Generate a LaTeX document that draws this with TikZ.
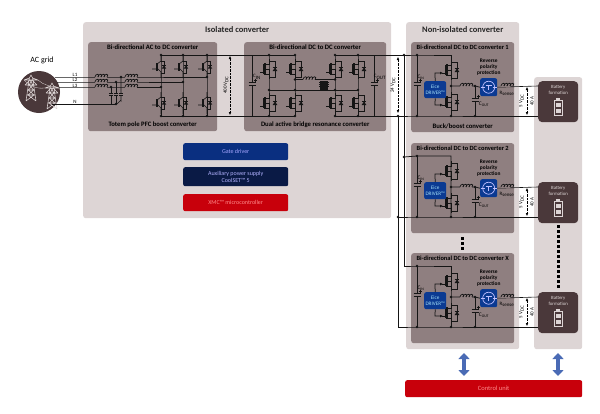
\documentclass[tikz,border=0pt]{standalone}
\usepackage{fontspec}
\setmainfont{Carlito}
\usetikzlibrary{positioning,arrows.meta}
\definecolor{panelgrey}{HTML}{DDD5D5}
\definecolor{subgrey}{HTML}{8F7F80}
\definecolor{darkbrown}{HTML}{4A383A}
\definecolor{wirecol}{HTML}{151515}
\definecolor{gateblue}{HTML}{0A2F80}
\definecolor{auxblue}{HTML}{0A1A45}
\definecolor{chipblue}{HTML}{0B3A92}
\definecolor{redbox}{HTML}{C8000B}
\definecolor{arrowblue}{HTML}{4A6BB5}
\tikzset{
  panel/.style={rectangle,rounded corners=2.5pt,fill=panelgrey,anchor=north west,inner sep=0},
  subpanel/.style={panel,fill=subgrey},
  box/.style={rectangle,rounded corners=2pt,anchor=north west,inner sep=0,align=center,font=\fontsize{6}{7.5}\selectfont},
  ptitle/.style={font=\fontsize{8.5}{9}\selectfont\bfseries,text=black!85,inner sep=0},
  stitle/.style={font=\fontsize{6.7}{7}\selectfont\bfseries,text=black,inner sep=0},
  small/.style={font=\fontsize{5}{5.6}\selectfont,text=black,inner sep=0},
  dot/.style={circle,fill=wirecol,inner sep=0,minimum size=2.6pt},
  wire/.style={draw=wirecol,line width=.75pt},
  meas/.style={draw=black,line width=.4pt,densely dotted,{Latex[length=3pt,width=2.6pt]}-{Latex[length=3pt,width=2.6pt]}},
  updown/.style={draw=arrowblue,line width=3.6pt,{Triangle[length=6pt,width=11pt]}-{Triangle[length=6pt,width=11pt]}},
  igbt/.pic={
    \draw[wire,line width=.6pt] (-9,2) -- (-5,2) (-4,-3) -- (0,-6) -- (0,-11) (-4,1) -- (0,5) -- (0,11);
    \draw[wire,line width=1.1pt] (-4,-4) -- (-4,4);
    \draw[wire,line width=.6pt] (0,-6) -- (3,-6) -- (3,6) -- (0,6);
    \fill[wirecol] (.8,1.5) -- (5.2,1.5) -- (3,-1.5) -- cycle;
    \draw[wirecol,line width=.6pt] (.8,-1.6) -- (5.2,-1.6);
  },
  mosfet/.pic={
    \draw[wire,line width=.6pt] (0,-10) -- (0,-5) -- (-4,-5) (-4,0) -- (0,0) (-4,5) -- (0,5) -- (0,10);
    \draw[wire,line width=.6pt] (0,0) -- (0,5);
    \draw[wire,line width=1.1pt] (-4,-6) -- (-4,6);
    \draw[wire,line width=.6pt] (-5.5,-5) -- (-5.5,5) (-5.5,3) -- (-9,3);
    \draw[wire,line width=.6pt] (0,-8) -- (6,-8) -- (6,8) -- (0,8);
    \fill[wirecol] (3.6,2) -- (8.4,2) -- (6,-1.5) -- cycle;
    \draw[wirecol,line width=.6pt] (3.6,-1.7) -- (8.4,-1.7);
  },
  coil/.pic={
    \foreach \k in {0,3,6,9}
      \draw[wirecol,line width=.7pt] (\k,0) .. controls +(0,-3.6) and +(3,-3.6) .. +(3,0);
  },
  cappol/.pic={
    \fill[subgrey] (-3.5,-1.2) rectangle (3.5,1.2);
    \draw[wirecol,line width=.9pt] (-3.5,-1.2) -- (3.5,-1.2) (-3.5,1.2) -- (3.5,1.2);
    \draw[wirecol,line width=.4pt] (1.5,-4) -- (4.5,-4) (3,-5.5) -- (3,-2.5);
  },
  capsmall/.pic={
    \fill[subgrey] (-2,-1) rectangle (2,1);
    \draw[wirecol,line width=.8pt] (-2.2,-1) -- (2.2,-1) (-2.2,1) -- (2.2,1);
  },
  pylon/.pic={
    \draw[panelgrey,line width=.55pt,line join=round]
      (-5,13) -- (-1.6,-10) -- (0,-13) -- (1.6,-10) -- (5,13)
      (-7,-8) -- (7,-8) (-6,-3) -- (6,-3)
      (-7,-8) -- (-1.6,-10) (7,-8) -- (1.6,-10) (-6,-3) -- (-1.2,-8) (6,-3) -- (1.2,-8)
      (-1.2,-8) -- (2,-3) -- (-2.8,2) -- (3,7) -- (-5,13)
      (1.2,-8) -- (-2,-3) -- (2.8,2) -- (-3,7) -- (5,13)
      (-2.8,2) -- (2.8,2) (-3.6,7) -- (3.6,7);
  },
}
\begin{document}
\begin{tikzpicture}[x=1pt,y=-1pt]
  \useasboundingbox (0,0) rectangle (600,413);

  % big panels
  \node[panel,minimum width=308,minimum height=196] (isolated) at (83,22) {};
  \node[panel,minimum width=113,minimum height=327] (nonisolated) at (406,22) {};
  \node[panel,minimum width=48,minimum height=272] (batpanel) at (534,77) {};
  \node[ptitle,below=4pt of isolated.north] (isotitle) {Isolated converter};
  \node[ptitle,below=4pt of nonisolated.north] (nontitle) {Non-isolated converter};

  \node[subpanel,minimum width=129,minimum height=89] (pfc) at (88,42) {};
  \node[subpanel,minimum width=142,minimum height=89] (dab) at (244,42) {};
  \node[stitle,below=3pt of pfc.north] (pfctitle) {Bi-directional AC to DC converter};
  \node[stitle,above=3.5pt of pfc.south] (pfcname) {Totem pole PFC boost converter};
  \node[stitle,below=3pt of dab.north] (dabtitle) {Bi-directional DC to DC converter};
  \node[stitle,above=3.5pt of dab.south] (dabname) {Dual active bridge resonance converter};

  % grid
  \node[circle,fill=darkbrown,minimum size=42pt,inner sep=0] (grid) at (39,92) {};
  \node[font=\fontsize{8}{9}\selectfont,inner sep=0] (gridname) at (42,60) {AC grid};
  \pic at (31,88) {pylon};
  \pic at (52,96) {pylon};
  \draw[panelgrey,line width=.3pt] (24,80) .. controls (34,90) and (42,88) .. (45,88)
    (38,80) .. controls (43,85) and (50,86) .. (59,88);

  % phases
  \coordinate (gL1) at (55,77);
  \coordinate (gL2) at (57,82);
  \coordinate (gL3) at (58.5,87);
  \coordinate (gN) at (52,104);
  \node[dot] (jL1a) at (121,77) {};
  \node[dot] (jL2a) at (116,82) {};
  \node[dot] (jL3a) at (111,87) {};
  \node[dot] (jNa) at (116,104) {};
  \node[dot] (leg1m) at (207,77) {};
  \node[dot] (leg2m) at (183,82) {};
  \node[dot] (leg3m) at (161,87) {};
  \draw[wire,line width=.6pt] (gL1) -- (jL1a.center) -- (leg1m.center);
  \draw[wire,line width=.6pt] (gL2) -- (jL2a.center) -- (leg2m.center);
  \draw[wire,line width=.6pt] (gL3) -- (jL3a.center) -- (leg3m.center);
  \draw[wire,line width=.6pt] (gN) -- (jNa.center);
  \draw[wire,line width=.6pt] (jL1a.center) -- (121,101) to[out=90,in=0] (jNa.center);
  \draw[wire,line width=.6pt] (jL2a.center) -- (jNa.center);
  \draw[wire,line width=.6pt] (jL3a.center) -- (111,104) -- (jNa.center);
  \foreach \ypos in {77,82,87} {
    \fill[subgrey] (95,\ypos-.6) rectangle (107,\ypos+.6);
    \fill[subgrey] (125,\ypos-.6) rectangle (137,\ypos+.6);
    \pic at (95,\ypos) {coil};
    \pic at (125,\ypos) {coil};
  }
  \foreach \xpos in {111,116,121}
    \pic at (\xpos,94) {capsmall};
  \foreach \nm/\ypos in {L1/74.5,L2/80,L3/85.5,N/101.5}
    \node[small] (lab\nm) at (75,\ypos) {\nm};

  % pfc legs
  \foreach \nm/\xpos/\mid in {1/207/leg1m,2/183/leg2m,3/161/leg3m} {
    \node[dot] (pfctop\nm) at (\xpos,55) {};
    \node[dot] (pfcbot\nm) at (\xpos,116) {};
    \draw[wire] (pfctop\nm.center) -- (\mid.center) -- (pfcbot\nm.center);
    \pic at (\xpos,67) {igbt};
    \pic at (\xpos,103) {igbt};
  }

  % dab
  \foreach \nm/\xpos in {a/269,b/295,c/335,d/358} {
    \node[dot] (dabtop\nm) at (\xpos,55) {};
    \node[dot] (dabbot\nm) at (\xpos,116) {};
    \node[dot] (dabmid\nm) at (\xpos,90) {};
    \draw[wire] (dabtop\nm.center) -- (dabmid\nm.center) -- (dabbot\nm.center);
    \pic at (\xpos,69) {mosfet};
    \pic at (\xpos,103) {mosfet};
  }
  \node[dot] (dabupb) at (295,79.5) {};
  \node[dot] (dabupc) at (335,79.5) {};
  \coordinate (tfup) at (318,79.5);
  \draw[wire] (dabupb.center) -- (tfup) -- (dabupc.center);
  \draw[wire] (dabmida.center) -- (dabmidd.center);
  \fill[subgrey] (303,78.9) rectangle (315,80.1);
  \pic at (303,79.5) {coil};
  \foreach \ypos in {82.5,84.5,86.5}
    \draw[wirecol,line width=1.3pt] (319,\ypos) -- (329,\ypos);
  \fill[wirecol] (320,80.5) rectangle (328,91);

  \coordinate (capL) at (252,55);
  \coordinate (capLb) at (252,116);
  \coordinate (capR) at (374,55);
  \coordinate (capRb) at (374,116);
  \draw[wire] (capL) -- (capLb) (capR) -- (capRb);
  \pic at (252,84) {cappol};
  \pic at (374,84) {cappol};
  \node[small] (cinlab) at (257,77) {C\textsubscript{IN}};
  \node[small] (coutlab) at (380,77) {C\textsubscript{OUT}};

  % buses
  \node[dot] (busA) at (404,55) {};
  \node[dot] (busB) at (398,116) {};
  \draw[wire] (pfctop3.center) -- (dabtopb.center);
  \draw[wire] (pfcbot3.center) -- (dabbotb.center);
  \draw[wire] (dabtopc.center) -- (busA.center);
  \draw[wire] (dabbotc.center) -- (busB.center);
  \coordinate (m400a) at (230,56);
  \coordinate (m400b) at (230,115);
  \draw[meas] (m400a) -- (m400b);
  \node[small,rotate=90] (v400) at (226,85) {400 V\textsubscript{DC}};
  \coordinate (m24a) at (398,57);
  \coordinate (m24b) at (398,113);
  \draw[meas] (m24a) -- (m24b);
  \node[small,rotate=90] (v24) at (393,85) {24 V\textsubscript{DC}};
  \node[dot] (busAe) at (404,157) {};
  \coordinate (busAx) at (404,266);
  \node[dot] (busBe) at (398,217) {};
  \coordinate (busBx) at (398,327);
  \draw[wire] (busA.center) -- (busAx);
  \draw[wire] (busB.center) -- (busBx);

  % non isolated converters
  \foreach \i/\dy/\from/\frob in {1/0/busA/busB,2/101/busAe/busBe,X/211/busAx/busBx} {
    \begin{scope}[shift={(0,\dy)}]
      \node[subpanel,minimum width=103,minimum height=90] (conv\i) at (411,42) {};
      \node[stitle,font=\fontsize{6.4}{7}\selectfont\bfseries,below=3pt of conv\i.north] (convtitle\i) {Bi-directional DC to DC converter \i};
      \node[dot] (cint\i) at (417,55) {};
      \node[dot] (cinb\i) at (417,116) {};
      \node[dot] (swm\i) at (451,86) {};
      \coordinate (swt\i) at (451,55);
      \node[dot] (swb\i) at (451,116) {};
      \node[dot] (coutm\i) at (475,86) {};
      \node[dot] (coutb\i) at (475,116) {};
      \draw[wire] (\from.center) -- (cint\i.center) -- (swt\i) -- (swm\i.center) -- (swb\i.center);
      \draw[wire] (\frob.center) -- (cinb\i.center) -- (swb\i.center) -- (coutb\i.center);
      \draw[wire] (cint\i.center) -- (cinb\i.center);
      \draw[wire] (coutm\i.center) -- (coutb\i.center);
      \pic at (451,70) {mosfet};
      \pic at (451,102) {mosfet};
      \pic at (417,84) {cappol};
      \pic at (475,100) {cappol};
      \node[small,font=\fontsize{5.4}{6}\selectfont] (cinname\i) at (421,77) {C\textsubscript{IN}};
      \node[small,font=\fontsize{5.4}{6}\selectfont] (coutname\i) at (484,104) {C\textsubscript{OUT}};
      \node[box,fill=chipblue,minimum width=22,minimum height=17,text=cyan!35!white,font=\fontsize{5.2}{6}\selectfont] (eice\i) at (424,81) {Eice\\[-.5pt]DRIVER™};
      \draw[wire,-{Latex[length=3pt,width=3pt]}] (eice\i.north) -- (435,73) -- (443,73);
      \draw[wire,-{Latex[length=3pt,width=3pt]}] (eice\i.south) -- (435,105) -- (443,105);
      \node[box,fill=chipblue,minimum width=17,minimum height=18] (rpp\i) at (480,78) {};
      \draw[blue!25!white,line width=.7pt] (rpp\i.center) circle (6pt);
      \draw[blue!25!white,line width=.5pt] (rpp\i.center) ++(-3,-1.5) -- ++(6,0) ++(-3,0) -- ++(0,4.5) (rpp\i.center) ++(-8,0) -- ++(4,0) (rpp\i.center) ++(4,0) -- ++(4,0);
      \node[small,font=\fontsize{5.4}{6.2}\selectfont\bfseries,align=center,above=2.5pt of rpp\i] (rpptext\i) {Reverse\\polarity\\protection};
      \draw[wire] (swm\i.center) -- (coutm\i.center) -- (rpp\i.west);
      \fill[subgrey] (460,85.4) rectangle (472,86.6);
      \pic at (460,86) {coil};
      \node[rectangle,fill=darkbrown,rounded corners=4pt,minimum width=40,minimum height=41,anchor=north west,inner sep=0] (bat\i) at (538,81) {};
      \draw[wire,line width=.6pt] (rpp\i.east) -- (bat\i.west |- swm\i);
      \draw[wire,line width=.6pt] (coutb\i.center) -- (bat\i.west |- coutb\i);
      \fill[subgrey] (501,85.4) rectangle (510,86.6);
      \begin{scope}[shift={(501,86)},xscale=.72]
        \pic at (0,0) {coil};
      \end{scope}
      \node[small] (rsense\i) at (507,93) {R\textsubscript{sense}};
      \coordinate (mbata\i) at (527,87);
      \coordinate (mbatb\i) at (527,115);
      \draw[meas] (mbata\i) -- (mbatb\i);
      \node[small,rotate=90] (vbat\i) at (521.5,101) {5 V\textsubscript{DC}};
      \node[small,rotate=90] (abat\i) at (532,101) {40 A};
      \node[small,text=panelgrey,align=center,font=\fontsize{4.8}{6}\selectfont,below=4pt of bat\i.north] (battext\i) {Battery\\formation};
      \node[rectangle,draw=panelgrey,line width=.7pt,minimum width=8,minimum height=15,anchor=north,inner sep=0] (cell\i) at (558,100) {};
      \fill[panelgrey] (556,97.5) rectangle (560,99.5);
      \fill[panelgrey] (555.5,103) rectangle (560.5,107);
      \fill[panelgrey] (555.5,109) rectangle (560.5,113);
    \end{scope}
  }
  \node[stitle,above=3.5pt of conv1.south] (buckname) {Buck/boost converter};

  % dots between the stages
  \foreach \ypos in {238,243,248}
    \fill[black] (460.5,\ypos-1.5) rectangle (463.5,\ypos+1.5);
  \foreach \ypos in {226,231,...,290}
    \fill[black] (556.5,\ypos-1.5) rectangle (559.5,\ypos+1.5);

  % blocks
  \node[box,fill=gateblue,text=blue!35!white,minimum width=105,minimum height=17] (gate) at (183,143) {Gate driver};
  \node[box,fill=auxblue,text=blue!30!white,minimum width=105,minimum height=19] (aux) at (183,167) {Auxiliary power supply\\CoolSET™ 5};
  \node[box,fill=redbox,text=red!45!white,minimum width=105,minimum height=17] (xmc) at (183,194) {XMC™ microcontroller};
  \node[box,fill=redbox,text=red!45!white,minimum width=177,minimum height=17,font=\fontsize{6.5}{8}\selectfont] (control) at (405,380) {Control unit};

  \coordinate (arrAa) at (464,353);
  \coordinate (arrAb) at (464,376);
  \coordinate (arrBa) at (558,353);
  \coordinate (arrBb) at (558,376);
  \draw[updown] (arrAa) -- (arrAb);
  \draw[updown] (arrBa) -- (arrBb);
\end{tikzpicture}
\end{document}
